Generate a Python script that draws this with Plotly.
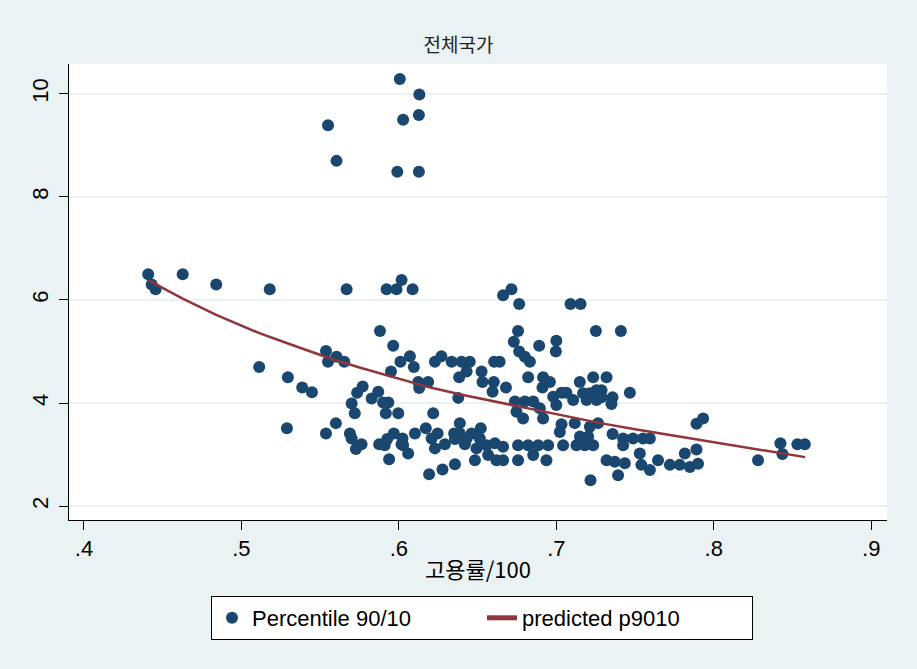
import plotly.graph_objects as go

# ---- data ----
emp_rate = [
    0.6006, 0.613, 0.6027, 0.6127, 0.555, 0.5604, 0.599, 0.6127,
    0.4408, 0.4627, 0.484, 0.518, 0.443, 0.4455, 0.5668, 0.5922, 0.5985, 0.6017, 0.6087,
    0.6662, 0.6715, 0.6764, 0.709, 0.7154,
    0.5113, 0.5295, 0.5386, 0.5448, 0.5289, 0.5537, 0.5604, 0.555, 0.5653, 0.570, 0.572,
    0.5735, 0.5537, 0.560, 0.5689, 0.570, 0.5727,
    0.588, 0.5964, 0.601, 0.607, 0.595, 0.577, 0.5869, 0.5827, 0.5933, 0.590, 0.5917,
    0.5996, 0.5763, 0.5875, 0.5926, 0.5968, 0.6023, 0.6017, 0.5938, 0.6059, 0.591,
    0.6095, 0.6229, 0.627, 0.6335, 0.6398, 0.645, 0.643, 0.6383, 0.6525, 0.6531, 0.6605,
    0.6603, 0.6595, 0.6123, 0.6129, 0.6186, 0.6377, 0.6218, 0.6027, 0.6102, 0.6171,
    0.6208, 0.6246, 0.6229, 0.6292, 0.6351, 0.6387, 0.6387, 0.6419, 0.6462, 0.652,
    0.6514, 0.6493, 0.6557, 0.661, 0.6483, 0.6356, 0.6277, 0.6192, 0.662, 0.6567,
    0.6356, 0.643,
    0.6757, 0.673, 0.6891, 0.700, 0.6997, 0.7251, 0.6764, 0.680, 0.6832, 0.664, 0.6821,
    0.6916, 0.6959, 0.6912, 0.668, 0.7149, 0.7234, 0.698, 0.7033, 0.7064, 0.7107, 0.717,
    0.7213, 0.7255, 0.7192, 0.7255, 0.700, 0.6737, 0.680, 0.6853, 0.6747, 0.6789, 0.6916,
    0.6895, 0.7033, 0.7022, 0.7117, 0.7213, 0.7265, 0.715, 0.7202, 0.6662, 0.6757, 0.6821,
    0.6885, 0.6948, 0.7043, 0.7128, 0.7181, 0.7234, 0.6662, 0.6757, 0.6853, 0.6937, 0.7217,
    0.741, 0.7319, 0.7467, 0.7287, 0.7357, 0.735, 0.7287, 0.789, 0.7357, 0.7424, 0.7487,
    0.7551, 0.7594, 0.7424, 0.753, 0.7319, 0.7371, 0.7435, 0.7392, 0.754, 0.7594, 0.7646,
    0.7721, 0.7784, 0.7816, 0.7848,
    0.7932, 0.790, 0.789, 0.8281, 0.8423, 0.8436, 0.8531, 0.8578,
]
p9010 = [
    10.29, 9.99, 9.50, 9.59, 9.39, 8.70, 8.49, 8.49,
    6.50, 6.50, 6.30, 6.21, 6.30, 6.21, 6.21, 6.21, 6.21, 6.39, 6.21,
    6.09, 6.21, 5.92, 5.92, 5.92,
    4.70, 4.50, 4.30, 4.21, 3.51, 5.01, 4.90, 4.80, 4.80, 3.99, 3.80,
    4.20, 3.41, 3.61, 3.41, 3.31, 3.11,
    5.40, 5.11, 4.80, 4.91, 4.61, 4.32, 4.22, 4.09, 4.01, 4.01, 3.80,
    3.80, 3.20, 3.20, 3.30, 3.41, 3.31, 3.20, 2.91, 3.02, 3.18,
    4.70, 4.80, 4.91, 4.80, 4.80, 4.80, 4.61, 4.50, 4.61, 4.41, 4.80,
    4.41, 4.22, 4.41, 4.29, 4.41, 4.10, 3.80, 3.18, 3.41, 3.51,
    3.31, 3.41, 3.12, 3.20, 3.41, 3.61, 3.41, 3.20, 3.41, 3.51,
    3.31, 3.12, 3.18, 3.22, 2.89, 2.81, 2.71, 2.62, 2.89, 2.99,
    3.30, 3.30,
    5.40, 5.19, 5.11, 5.21, 5.00, 5.40, 5.00, 4.90, 4.80, 4.80, 4.50,
    4.50, 4.41, 4.30, 4.30, 4.41, 4.50, 4.12, 4.20, 4.20, 4.06, 4.19,
    4.19, 4.25, 4.06, 4.06, 3.96, 4.03, 4.03, 4.03, 3.83, 3.70, 3.70,
    3.90, 3.59, 3.44, 3.61, 3.54, 3.61, 3.35, 3.35, 3.15, 3.18, 3.18,
    3.18, 3.18, 3.18, 3.18, 3.18, 3.18, 2.89, 2.89, 2.99, 2.89, 2.50,
    5.40, 4.50, 4.20, 4.25, 4.11, 3.98, 4.11, 3.60, 3.40, 3.31, 3.31,
    3.31, 3.31, 3.18, 3.02, 2.89, 2.86, 2.83, 2.60, 2.80, 2.70, 2.89,
    2.80, 2.80, 3.02, 2.76,
    3.70, 2.82, 3.10, 2.89, 3.22, 3.01, 3.20, 3.20,
]

pred_x = [0.441, 0.463, 0.484, 0.511, 0.530, 0.556, 0.575, 0.600, 0.620, 0.640,
          0.664, 0.683, 0.700, 0.728, 0.750, 0.778, 0.791, 0.828, 0.858]
pred_y = [6.38, 6.02, 5.71, 5.36, 5.15, 4.87, 4.69, 4.47, 4.30, 4.16,
          4.01, 3.90, 3.78, 3.61, 3.49, 3.35, 3.28, 3.10, 2.95]

x_ticks = [0.4, 0.5, 0.6, 0.7, 0.8, 0.9]
x_tick_labels = [".4", ".5", ".6", ".7", ".8", ".9"]
y_ticks = [2, 4, 6, 8, 10]

NAVY = "#1A476F"
MAROON = "#90353B"
BG = "#EAF2F3"
FONT = "Liberation Sans, Arial, Noto Sans CJK KR, sans-serif"

fig = go.Figure()
fig.add_trace(go.Scatter(
    x=emp_rate, y=p9010, mode="markers", name="Percentile 90/10",
    marker=dict(color=NAVY, size=12, line=dict(width=0)),
))
fig.add_trace(go.Scatter(
    x=pred_x, y=pred_y, mode="lines", name="predicted p9010",
    line=dict(color=MAROON, width=2.5),
))

fig.update_layout(
    width=917, height=669,
    paper_bgcolor=BG, plot_bgcolor="white",
    margin=dict(l=69, r=30, t=64, b=149),
    font=dict(family=FONT, size=22, color="black"),
    title=dict(text="전체국가", x=0.5, xanchor="center", y=1 - 45 / 669, yanchor="middle",
               font=dict(family="Noto Sans CJK KR, sans-serif", size=19, color="#222")),
    showlegend=True,
    legend=dict(orientation="h", x=(211 - 69) / 818, xanchor="left", y=-(596 - 520) / 456,
                yanchor="top",
                bgcolor="white", bordercolor="black", borderwidth=1,
                font=dict(size=22), entrywidth=225, entrywidthmode="pixels",
                itemsizing="constant"),
)
fig.update_xaxes(
    range=[0.3905, 0.91], tickvals=x_ticks, ticktext=x_tick_labels,
    showgrid=False, zeroline=False, showline=True, linecolor="black", linewidth=1,
    ticks="outside", ticklen=9, tickcolor="black",
    title=dict(text="고용률/100", standoff=2,
               font=dict(family="Noto Sans CJK KR, Liberation Sans, sans-serif", size=22)),
)
fig.update_yaxes(
    range=[1.73, 10.58], tickvals=y_ticks, tickangle=-90,
    showgrid=True, gridcolor=BG, gridwidth=2, zeroline=False,
    showline=True, linecolor="black", linewidth=1,
    ticks="outside", ticklen=9, tickcolor="black", ticklabelstandoff=2,
)

fig.write_html("out.html", config={"displayModeBar": False},
               post_script="document.body.style.margin='0px';")
